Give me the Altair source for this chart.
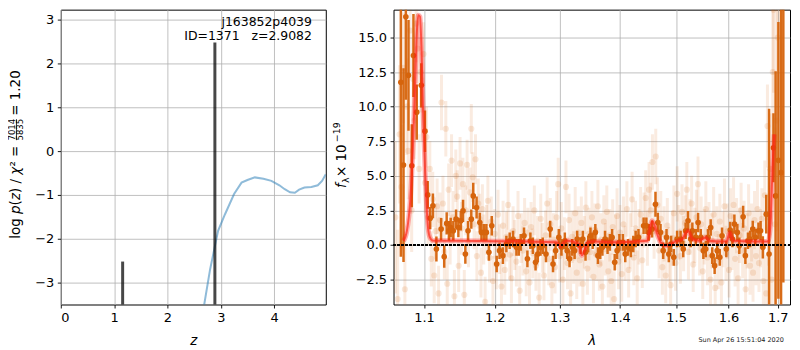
import altair as alt
import pandas as pd

# ---------------- left panel: log p(z) ----------------
pz_z = [2.60, 2.69, 2.80, 2.95, 3.08, 3.25, 3.39, 3.50, 3.64, 3.80, 3.95, 4.10, 4.20, 4.30, 4.39, 4.47, 4.57, 4.70, 4.82, 4.90, 4.97]
pz_v = [-4.10, -3.50, -2.70, -1.82, -1.44, -0.98, -0.72, -0.66, -0.60, -0.63, -0.68, -0.78, -0.87, -0.94, -0.95, -0.88, -0.83, -0.82, -0.78, -0.68, -0.53]

peak_z = [1.16, 2.89]
peak_v = [-2.52, 2.48]

z_ticks = [0, 1, 2, 3, 4]
logp_ticks = [-3, -2, -1, 0, 1, 2, 3]

label_z = [4.71, 4.71]
label_v = [2.95, 2.63]
label_txt = ["j163852p4039", "ID=1371\u00a0\u00a0\u00a0z=2.9082"]

# ---------------- right panel: spectrum ----------------
bin_wave = [1.0692, 1.0727, 1.0758, 1.0793, 1.0837, 1.0859, 1.0903, 1.0964,
            1.1014, 1.1051, 1.1085, 1.1122, 1.1170, 1.1235, 1.1278, 1.1312, 1.1344, 1.1368, 1.1405, 1.1443,
            1.1476, 1.1510, 1.1542, 1.1575, 1.1613, 1.1660, 1.1688, 1.1736, 1.1783, 1.1807, 1.1844, 1.1878,
            1.1915, 1.1957,
            1.2030, 1.2072, 1.2122, 1.2174, 1.2224, 1.2274, 1.2326, 1.2361, 1.2391, 1.2441, 1.2493, 1.2539,
            1.2578, 1.2619, 1.2654, 1.2696, 1.2731, 1.2782, 1.2848, 1.2893, 1.2934, 1.2985,
            1.3028, 1.3082, 1.3119, 1.3158, 1.3201, 1.3240, 1.3282, 1.3338, 1.3375, 1.3419, 1.3462, 1.3501,
            1.3538, 1.3582, 1.3625, 1.3664, 1.3701, 1.3745, 1.3788, 1.3827, 1.3865, 1.3909, 1.3951, 1.3990,
            1.4049, 1.4091, 1.4140, 1.4189, 1.4231, 1.4273, 1.4322, 1.4413, 1.4462, 1.4504, 1.4564, 1.4625,
            1.4667, 1.4716, 1.4764, 1.4825, 1.4867, 1.4909, 1.4958,
            1.5019, 1.5084, 1.5133, 1.5178, 1.5222, 1.5273, 1.5304, 1.5368, 1.5412, 1.5463, 1.5512, 1.5558,
            1.5602, 1.5653, 1.5683, 1.5729, 1.5778, 1.5829, 1.5873, 1.5956,
            1.6033, 1.6077, 1.6116, 1.6174, 1.6213, 1.6290, 1.6335, 1.6387, 1.6431, 1.6484, 1.6536, 1.6600,
            1.6644, 1.6690, 1.6760, 1.6818, 1.6909, 1.6954, 1.7012, 1.7068, 1.7116]
bin_flux = [11.76, 5.78, 16.5, 12.26, 5.73, 13.7, 9.6, 11.54,
            8.23, 3.62, 1.94, 2.83, -0.29, 1.15, -0.84, 1.56, 1.03, 1.27, 1.03, 1.87,
            1.27, 1.75, 2.47, -0.65, 1.03, 1.87, 3.55, 2.71, 1.63, 0.91, 0.91, 0.91,
            -0.53, 1.39,
            -1.37, -0.41, -0.77, 0.07, 0.31, 0.43, -0.17, -0.17, 0.19, 0.67, -1.00, 0.31,
            -0.05, -1.25, -0.65, -0.17, -0.05, -0.65, 1.15, -1.37, -0.41, 0.55,
            -0.17, 0.31, -0.41, -1.00, -0.17, -0.41, 0.43, -0.05, 0.43, -0.53, 0.07, 0.67,
            0.31, 0.91, -0.77, -0.41, -0.17, 0.43, -0.05, 0.19, 0.55, -1.25, -0.41, 0.19,
            0.19, -0.65, -0.17, -0.29, 0.07, 0.43, 0.55, 1.39, 1.39, 0.91, 1.15, 2.95,
            1.63, 0.91, -0.41, 0.55, -0.65, 0.07, -0.89,
            0.43, 0.43, -0.29, 1.03, 1.75, 0.43, 1.03, 0.55, 1.63, 0.55, -0.41, -0.29,
            0.55, 1.27, -0.77, -1.49, -0.41, -0.89, 0.67, -0.29,
            1.08, 0.43, 1.51, 0.91, -0.05, 2.04, -0.77, 0.31, 0.43, 1.15, 0.55, 1.03,
            1.03, -0.17, 2.23, -0.65, 7.03, 3.55, 6.12, 5.23, 17.3]
bin_err = [12.6, 7.0, 6.0, 4.0, 3.0, 3.0, 2.0, 1.6,
           1.5, 1.0, 0.8, 0.9, 0.9, 0.8, 0.8, 0.8, 0.7, 0.7, 0.7, 0.7,
           0.7, 0.7, 0.8, 0.7, 0.7, 0.7, 0.95, 0.8, 0.7, 0.6, 0.6, 0.6,
           0.6, 0.7,
           0.6, 0.6, 0.6, 0.6, 0.6, 0.6, 0.6, 0.6, 0.6, 0.6, 0.6, 0.6,
           0.6, 0.6, 0.6, 0.6, 0.6, 0.6, 0.6, 0.6, 0.6, 0.6,
           0.6, 0.6, 0.6, 0.6, 0.6, 0.6, 0.6, 0.6, 0.6, 0.6, 0.6, 0.6,
           0.6, 0.6, 0.6, 0.6, 0.6, 0.6, 0.6, 0.6, 0.6, 0.6, 0.6, 0.6,
           0.6, 0.6, 0.6, 0.6, 0.6, 0.6, 0.6, 0.6, 0.6, 0.6, 0.6, 0.9,
           0.7, 0.6, 0.6, 0.6, 0.6, 0.6, 0.6,
           0.6, 0.6, 0.6, 0.6, 0.7, 0.6, 0.6, 0.6, 0.7, 0.6, 0.6, 0.6,
           0.6, 0.6, 0.6, 0.6, 0.6, 0.6, 0.6, 0.6,
           0.6, 0.6, 0.7, 0.6, 0.6, 0.8, 0.6, 0.6, 0.6, 0.6, 0.6, 0.6,
           0.7, 0.8, 1.4, 10.5, 2.5, 9.0, 10.0, 12.0, 20.0]

raw_wave = [1.0620, 1.0650, 1.0675, 1.0700, 1.0725, 1.0745, 1.0770, 1.0790, 1.0815, 1.0835, 1.0855, 1.0875,
            1.0895, 1.0915, 1.0935, 1.0955, 1.0975, 1.0995, 1.1015, 1.1035, 1.1055, 1.1080, 1.1100, 1.1120,
            1.1140, 1.1160, 1.1180, 1.1200, 1.1220, 1.1240, 1.1260, 1.1280, 1.1300, 1.1320, 1.1340, 1.1360,
            1.1380, 1.1400, 1.1420, 1.1440, 1.1460, 1.1480, 1.1500, 1.1520, 1.1540, 1.1560, 1.1580, 1.1600,
            1.1620, 1.1640, 1.1660, 1.1680, 1.1700, 1.1720, 1.1740, 1.1760, 1.1780, 1.1800, 1.1820, 1.1840,
            1.1860, 1.1880, 1.1900, 1.1925, 1.1950, 1.1975, 1.2000, 1.2025, 1.2050, 1.2075, 1.2100, 1.2125,
            1.2150, 1.2175, 1.2200, 1.2225, 1.2250, 1.2275, 1.2300, 1.2325, 1.2350, 1.2375, 1.2400, 1.2425,
            1.2450, 1.2475, 1.2500, 1.2525, 1.2550, 1.2575, 1.2600, 1.2625, 1.2650, 1.2675, 1.2700, 1.2725,
            1.2750, 1.2775, 1.2800, 1.2825, 1.2850, 1.2875, 1.2900, 1.2925, 1.2950, 1.2975, 1.3000, 1.3025,
            1.3050, 1.3075, 1.3100, 1.3125, 1.3150, 1.3175, 1.3200, 1.3225, 1.3250, 1.3275, 1.3300, 1.3325,
            1.3350, 1.3375, 1.3400, 1.3425, 1.3450, 1.3475, 1.3500, 1.3525, 1.3550, 1.3575, 1.3600, 1.3625,
            1.3650, 1.3675, 1.3700, 1.3725, 1.3750, 1.3775, 1.3800, 1.3825, 1.3850, 1.3875, 1.3900, 1.3925,
            1.3950, 1.3975, 1.4000, 1.4030, 1.4060, 1.4090, 1.4120, 1.4150, 1.4180, 1.4210, 1.4240, 1.4270,
            1.4300, 1.4330, 1.4360, 1.4390, 1.4420, 1.4450, 1.4480, 1.4510, 1.4540, 1.4570, 1.4600, 1.4630,
            1.4660, 1.4690, 1.4720, 1.4750, 1.4780, 1.4810, 1.4840, 1.4870, 1.4900, 1.4930, 1.4960, 1.4990,
            1.5020, 1.5050, 1.5080, 1.5110, 1.5140, 1.5170, 1.5200, 1.5230, 1.5260, 1.5290, 1.5320, 1.5350,
            1.5380, 1.5410, 1.5440, 1.5470, 1.5500, 1.5530, 1.5560, 1.5590, 1.5620, 1.5650, 1.5680, 1.5710,
            1.5740, 1.5770, 1.5800, 1.5830, 1.5860, 1.5890, 1.5920, 1.5950, 1.5980, 1.6010, 1.6040, 1.6070,
            1.6100, 1.6130, 1.6160, 1.6190, 1.6220, 1.6250, 1.6280, 1.6310, 1.6340, 1.6370, 1.6400, 1.6430,
            1.6460, 1.6490, 1.6520, 1.6550, 1.6580, 1.6610, 1.6640, 1.6670, 1.6700, 1.6730, 1.6760, 1.6785,
            1.6810, 1.6840, 1.6870, 1.6895, 1.6910, 1.6940, 1.6970, 1.7000]
raw_flux = [2.0, -3.9, 8.0, 4.2, 12.8, -3.2, 10.0, 6.8, 15.5, 2.5, 12.0, 9.0,
            16.0, 14.2, 5.5, 12.5, 9.8, 13.8, 4.5, 7.8, 2.0, 5.5, -1.0, 3.3,
            -2.2, 1.0, 2.8, -3.5, 1.8, 10.3, 3.0, -0.5, 8.4, -2.8, 4.0, 0.5,
            6.1, 2.0, -3.7, 5.0, 3.5, -1.5, 5.9, 1.2, 4.4, -3.6, 2.5, 5.8,
            0.2, 3.8, 8.4, 4.9, 1.5, 6.2, -0.8, 3.0, 1.9, -2.0, 2.6, 0.4,
            -4.1, 1.1, 3.2, -0.9, 1.7, -2.6, 0.8, -1.4, 2.2, -0.3, -3.0, 1.4,
            -1.8, 0.6, 2.9, -0.7, -2.4, 1.0, 0.0, -1.2, 2.1, -3.3, 0.5, -0.4,
            1.6, -1.9, 0.9, -2.7, 1.3, -0.6, 2.5, -1.5, 0.3, -3.8, 1.9, -0.2,
            -2.2, 0.7, 3.0, -1.0, 1.5, -2.9, 0.4, -1.6, 2.0, 4.4, -0.8, 1.2,
            -2.5, 0.1, 4.2, -1.3, 1.8, -3.5, 0.6, -0.9, 2.3, -2.0, 0.9, -1.1,
            1.6, -2.8, 0.2, 2.7, -1.7, 0.8, -0.5, 2.0, -2.3, 1.1, -0.7, 2.8,
            -1.4, 0.4, -3.0, 1.7, -0.3, 2.4, -1.9, 0.7, -2.6, 1.3, -3.9, 0.2,
            2.1, -1.2, 0.9, -2.1, 1.5, -0.6, 2.6, -1.8, 0.3, 3.3, -0.9, 1.2,
            -2.4, 0.6, 2.2, -1.1, 1.8, 3.4, 0.5, 4.0, 2.5, 6.0, 1.0, 6.4,
            2.9, -0.4, 1.9, -1.6, 0.8, -2.2, 1.4, -0.7, -2.9, 0.5, 2.3, -1.3,
            3.7, 0.9, -0.8, 2.4, 0.1, 1.6, 4.0, -0.5, 1.3, 3.0, -1.4, 0.7,
            2.0, 4.4, -0.2, 1.5, -1.9, 0.6, 2.6, -0.9, 1.1, -2.5, 0.3, 2.2,
            -3.1, 0.8, -1.2, 1.7, -2.7, 0.4, 2.8, -0.6, 1.0, -1.8, 2.1, 0.2,
            2.9, -1.0, 1.4, -2.4, 0.7, 2.5, -0.4, 1.2, -3.2, 0.3, 2.3, -1.5,
            0.9, -2.0, 1.8, -0.8, 2.6, -1.3, 0.5, 1.9, -2.6, 3.6, -3.5, 8.6,
            2.0, 5.5, -2.5, 12.5, 17.0, 1.5, 9.0, 15.0]
raw_err = [5.5, 5.0, 5.0, 4.5, 4.0, 4.0, 3.5, 3.5, 3.0, 3.0, 3.0, 2.8,
           2.8, 2.5, 2.5, 2.5, 2.3, 2.3, 2.2, 2.2, 2.0, 2.0, 2.0, 2.0,
           2.0, 2.0, 2.0, 2.0, 2.0, 2.0, 2.0, 2.0, 2.0, 1.9, 1.9, 1.9,
           1.9, 1.9, 1.9, 1.9, 1.9, 1.9, 1.9, 1.9, 1.9, 1.8, 1.8, 1.8,
           1.8, 1.8, 1.8, 1.8, 1.8, 1.8, 1.8, 1.8, 1.8, 1.8, 1.8, 1.8,
           1.8, 1.8, 1.8, 1.8, 1.8, 1.8, 1.8, 1.8, 1.8, 1.8, 1.8, 1.8,
           1.8, 1.8, 1.8, 1.8, 1.8, 1.8, 1.8, 1.8, 1.8, 1.8, 1.8, 1.8,
           1.8, 1.8, 1.8, 1.8, 1.8, 1.8, 1.8, 1.8, 1.8, 1.8, 1.8, 1.8,
           1.8, 1.8, 1.9, 1.9, 1.9, 1.9, 1.9, 1.9, 1.9, 1.9, 1.9, 1.9,
           1.9, 1.9, 1.9, 1.9, 1.9, 1.9, 1.9, 1.9, 1.9, 1.9, 1.9, 1.9,
           1.9, 1.9, 1.9, 1.9, 1.9, 1.9, 1.9, 1.9, 1.9, 1.9, 1.9, 1.9,
           1.9, 1.9, 1.9, 1.9, 1.9, 1.9, 1.9, 1.9, 2.0, 2.0, 2.0, 2.0,
           2.0, 2.0, 2.0, 2.0, 2.0, 2.0, 2.0, 2.0, 2.0, 2.0, 2.0, 2.0,
           2.0, 2.0, 2.0, 2.0, 2.0, 2.0, 2.0, 2.0, 2.0, 2.0, 2.0, 2.0,
           2.0, 2.0, 2.0, 2.0, 2.0, 2.0, 2.0, 2.0, 2.0, 2.0, 2.0, 2.0,
           2.0, 2.0, 2.0, 2.0, 2.0, 2.0, 2.0, 2.0, 2.0, 2.0, 2.0, 2.0,
           2.0, 2.0, 2.0, 2.0, 2.0, 2.0, 2.0, 2.0, 2.0, 2.0, 2.0, 2.0,
           2.0, 2.0, 2.0, 2.0, 2.0, 2.0, 2.0, 2.0, 2.0, 2.0, 2.0, 2.0,
           2.0, 2.0, 2.0, 2.0, 2.0, 2.0, 2.0, 2.0, 2.0, 2.0, 2.1, 2.1,
           2.1, 2.1, 2.1, 2.1, 2.1, 2.1, 2.1, 2.2, 2.3, 2.5, 2.8, 3.0,
           3.5, 4.0, 5.0, 5.0, 6.0, 7.0, 8.0, 9.0]

model_wave = [1.0727, 1.0771, 1.0816, 1.0850, 1.0881, 1.0903, 1.0925, 1.0947, 1.0968, 1.0991, 1.1014,
              1.1037, 1.1061, 1.1093, 1.1132, 1.1500, 1.2000, 1.2500, 1.2950, 1.3010, 1.3060, 1.3110,
              1.3200, 1.3300, 1.3360, 1.3400, 1.3460, 1.3550, 1.4000, 1.4476, 1.4520, 1.4564, 1.4610,
              1.4655, 1.4716, 1.4807, 1.4867, 1.4958, 1.5114, 1.5222, 1.5304, 1.5430, 1.5558, 1.5620,
              1.5870, 1.5960, 1.6025, 1.6090, 1.6500, 1.6760, 1.6806, 1.6857, 1.6890, 1.6925]
model_flux = [0.30, 1.00, 3.20, 6.80, 11.6, 15.2, 16.6, 16.5, 14.0, 9.2, 5.6,
              2.7, 1.0, 0.43, 0.30, 0.30, 0.28, 0.25, 0.20, -0.10, 0.15, 0.30,
              0.25, 0.10, -0.75, -0.40, 0.20, 0.25, 0.20, 0.30, 1.00, 1.75, 1.40,
              0.80, 0.20, -0.05, 0.00, 0.20, 0.43, 1.03, 0.43, 0.31, 0.55, 0.31,
              0.25, 0.25, 0.90, 0.30, 0.25, 0.25, 0.30, 2.20, 5.60, 8.00]

wave_ticks = [1.1, 1.2, 1.3, 1.4, 1.5, 1.6, 1.7]
flux_ticks = [-2.5, 0.0, 2.5, 5.0, 7.5, 10.0, 12.5, 15.0]
timestamp = "Sun Apr 26 15:51:04 2020"

FONT = "DejaVu Sans"
ORANGE = "#d6640c"
H = 296
WL = 266
WR = 398

one = pd.DataFrame({"a": [0]})


def txt(s, x, y, size=13.5, angle=270, align="left", style="normal"):
    return alt.Chart(one).mark_text(
        text=s, font=FONT, fontSize=size, angle=angle, align=align, baseline="middle",
        fontStyle=style, color="black"
    ).encode(x=alt.value(x), y=alt.value(y))


# ----- left -----
pz_df = pd.DataFrame({"z": pz_z, "v": pz_v})
peak_df = pd.DataFrame({"z": peak_z, "v": peak_v})
lab_df = pd.DataFrame({"z": label_z, "v": label_v, "t": label_txt})

zscale = alt.Scale(domain=[0, 4.97], nice=False, zero=False)
pscale = alt.Scale(domain=[-3.5, 3.227], nice=False, zero=False)
zax = alt.Axis(values=z_ticks, format="d", title="z", titleFontStyle="italic", titlePadding=9)
pax = alt.Axis(values=logp_ticks, format="d", title=None)

curve = alt.Chart(pz_df).mark_line(color="#1f77b4", opacity=0.5, strokeWidth=2, clip=True).encode(
    x=alt.X("z:Q", scale=zscale, axis=zax),
    y=alt.Y("v:Q", scale=pscale, axis=pax),
)
peaks = alt.Chart(peak_df).mark_rule(color="black", opacity=0.72, strokeWidth=3).encode(
    x="z:Q", y="v:Q", y2=alt.datum(-3.5)
)
labels = alt.Chart(lab_df).mark_text(align="right", baseline="middle", fontSize=12.5, font=FONT,
                                     color="black").encode(x="z:Q", y="v:Q", text="t:N")

# y title: log p(z) / chi^2 = 7014/5835 = 1.20 (italic p, z, chi; stacked fraction)
TX = -45
ly = [
    txt("log ", TX, 230),
    txt("p", TX, 205.1, style="italic"),
    txt("(", TX, 196.5),
    txt("z", TX, 191.2, style="italic"),
    txt(") / ", TX, 184.1),
    txt("χ", TX, 165.7, style="italic"),
    txt("² =", TX, 157.5),
    txt("7014", -48.5, 120.5, size=8.5, align="center"),
    txt("5835", -40.5, 120.5, size=8.5, align="center"),
    alt.Chart(one).mark_rule(color="black", strokeWidth=0.8).encode(
        x=alt.value(-44.5), y=alt.value(110), y2=alt.value(131)),
    txt("= 1.20", TX, 106.5),
]

left = alt.layer(curve, peaks, labels, *ly).properties(width=WL, height=H)

# ----- right -----
bin_df = pd.DataFrame({"w": bin_wave, "f": bin_flux, "e": bin_err})
bin_df["lo"] = bin_df["f"] - bin_df["e"]
bin_df["hi"] = bin_df["f"] + bin_df["e"]
raw_df = pd.DataFrame({"w": raw_wave, "f": raw_flux, "e": raw_err})
raw_df["lo"] = raw_df["f"] - raw_df["e"]
raw_df["hi"] = raw_df["f"] + raw_df["e"]
mod_df = pd.DataFrame({"w": model_wave, "f": model_flux})

wscale = alt.Scale(type="log", domain=[1.0596, 1.7257], nice=False)
fscale = alt.Scale(domain=[-4.3, 17.01], nice=False, zero=False)
wax = alt.Axis(values=wave_ticks, format=".1f", title="λ", titleFontStyle="italic", titlePadding=9)
fax = alt.Axis(values=flux_ticks, format=".1f", title=None)

raw_err_m = alt.Chart(raw_df).mark_rule(color=ORANGE, opacity=0.13, strokeWidth=3, clip=True).encode(
    x=alt.X("w:Q", scale=wscale, axis=wax), y=alt.Y("lo:Q", scale=fscale, axis=fax), y2="hi:Q"
)
raw_pts = alt.Chart(raw_df).mark_circle(color=ORANGE, opacity=0.15, size=38, clip=True).encode(
    x="w:Q", y="f:Q"
)
bin_err_m = alt.Chart(bin_df).mark_rule(color=ORANGE, opacity=0.95, strokeWidth=2.5, clip=True).encode(
    x="w:Q", y="lo:Q", y2="hi:Q"
)
bin_pts = alt.Chart(bin_df).mark_circle(color=ORANGE, opacity=1, size=32, clip=True).encode(
    x="w:Q", y="f:Q"
)
model_halo = alt.Chart(mod_df).mark_line(color="#ff0000", opacity=0.3, strokeWidth=5, clip=True,
                                         interpolate="monotone").encode(x="w:Q", y="f:Q")
model_core = alt.Chart(mod_df).mark_line(color="#ff2a1a", opacity=0.7, strokeWidth=2, clip=True,
                                         interpolate="monotone").encode(x="w:Q", y="f:Q")
zero_line = alt.Chart(mod_df).mark_rule(color="black", strokeDash=[1.6, 2.4], strokeWidth=1.6).encode(
    y=alt.datum(0)
)
stamp = alt.Chart(one).mark_text(
    text=timestamp, fontSize=6.5, font=FONT, color="#222222", align="center", baseline="middle"
).encode(x=alt.value(349), y=alt.value(332))

# y title: f_lambda x 10^-19
ry = [
    txt("f", -52, 179, style="italic"),
    txt("λ", -48, 174, size=9.5),
    txt(" × 10", -52, 168),
    txt("−19", -57, 133, size=9.5),
]

right = alt.layer(raw_err_m, raw_pts, bin_err_m, bin_pts, model_halo, model_core, zero_line, stamp,
                  *ry).properties(width=WR, height=H)

chart = alt.hconcat(left, right, spacing=4).properties(
    padding={"left": 0, "top": 0, "right": 0, "bottom": 0}
).configure_view(stroke="black", strokeWidth=1).configure_axis(
    grid=True, gridColor="#b0b0b0", gridWidth=0.8, domain=False,
    tickColor="black", tickSize=3.5, tickWidth=0.9,
    labelFont=FONT, labelFontSize=13, labelColor="black", labelPadding=3.5,
    titleFont=FONT, titleFontSize=13.5, titleColor="black", titleFontWeight="normal",
)

chart.save("out.html", embed_options={"renderer": "svg", "actions": False})
